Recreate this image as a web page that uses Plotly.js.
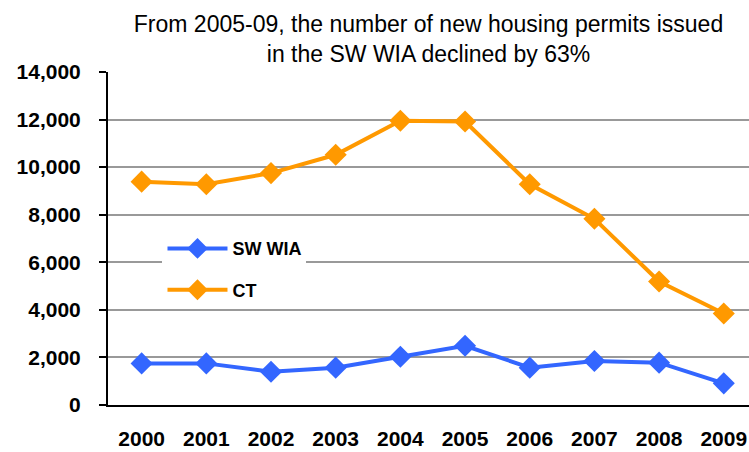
<!DOCTYPE html>
<html>
<head>
<meta charset="utf-8">
<script src="https://cdn.plot.ly/plotly-3.0.1.min.js"></script>
<style>
  body { margin: 0; background: #fff; }
  #chart { width: 749px; height: 452px; }
</style>
</head>
<body>
<div id="chart"></div>
<script>
// years on the x axis
let years = ["2000", "2001", "2002", "2003", "2004", "2005", "2006", "2007", "2008", "2009"]

// new housing permits issued
let swWia = [1750, 1750, 1400, 1570, 2030, 2490, 1570, 1850, 1780, 910]
let ct = [9390, 9280, 9750, 10520, 11950, 11920, 9280, 7830, 5190, 3850]

let blue = "#3366FF"
let orange = "#FF9900"

let data = [
    {
        x: years, y: swWia, name: "SW WIA", legendgroup: "a",
        mode: "lines+markers", type: "scatter",
        line: {color: blue, width: 4},
        marker: {symbol: "diamond", size: 17, color: blue}
    },
    {
        x: years, y: ct, name: "CT", legendgroup: "b",
        mode: "lines+markers", type: "scatter",
        line: {color: orange, width: 4},
        marker: {symbol: "diamond", size: 17, color: orange}
    }
]

let tickFont = {family: "Liberation Sans, Arial, sans-serif", size: 21, color: "#000", weight: "bold"}

let layout = {
    width: 749, height: 452,
    margin: {l: 108, r: 0, t: 72, b: 47},
    paper_bgcolor: "#fff", plot_bgcolor: "#fff",
    title: {
        text: "From 2005-09, the number of new housing permits issued<br>in the SW WIA declined by 63%",
        font: {family: "Liberation Sans, Arial, sans-serif", size: 23, color: "#000"},
        xref: "paper", x: 0.5, yref: "paper", y: 1, yanchor: "bottom",
        pad: {b: 40}
    },
    xaxis: {
        type: "category", range: [-0.52, 9.39],
        showgrid: false, showline: true, linecolor: "#000", linewidth: 2,
        ticks: "", tickfont: tickFont, ticklabelstandoff: 14,
        fixedrange: true
    },
    yaxis: {
        range: [0, 14000], dtick: 2000, tickformat: ",",
        showgrid: true, gridcolor: "#999", gridwidth: 2,
        showline: true, linecolor: "#000", linewidth: 2,
        ticks: "outside", ticklen: 7, tickcolor: "#000", tickwidth: 2,
        tickfont: tickFont, ticklabelstandoff: 14,
        zeroline: false, fixedrange: true
    },
    showlegend: true,
    legend: {
        x: 0.085, y: 0.525, xanchor: "left", yanchor: "top",
        bgcolor: "#fff", borderwidth: 0,
        traceorder: "grouped", tracegroupgap: 15, itemwidth: 60,
        font: {family: "Liberation Sans, Arial, sans-serif", size: 18, color: "#000", weight: "bold"}
    }
}

Plotly.newPlot("chart", data, layout, {displayModeBar: false, staticPlot: true})
</script>
</body>
</html>
